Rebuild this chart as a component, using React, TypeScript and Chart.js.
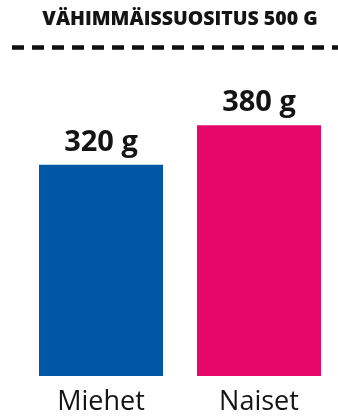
import React, { useEffect, useRef } from "react";
import { Chart, registerables } from "chart.js";

Chart.register(...registerables);

const categories = ["Miehet", "Naiset"];
const values = [320, 380];
const barColors = ["#0057a5", "#e5076a"];
const unit = "g";
const recommendation = 500;
const titleText = "VÄHIMMÄISSUOSITUS 500 G";

const FONT = "'Open Sans', 'Noto Sans', sans-serif";
const TEXT = "#141414";

const valueLabels = {
  id: "valueLabels",
  afterDatasetsDraw(chart: any) {
    const ctx = chart.ctx;
    const meta = chart.getDatasetMeta(0);
    ctx.save();
    ctx.font = `bold 29px ${FONT}`;
    ctx.fillStyle = TEXT;
    ctx.textAlign = "center";
    ctx.textBaseline = "alphabetic";
    meta.data.forEach((bar: any, i: number) => {
      ctx.fillText(`${values[i]} ${unit}`, bar.x, bar.y - 14);
    });
    ctx.restore();
  },
};

const recommendationLine = {
  id: "recommendationLine",
  afterDraw(chart: any) {
    const ctx = chart.ctx;
    const y = chart.scales.y.getPixelForValue(recommendation) + 1.5;
    ctx.save();
    ctx.strokeStyle = "#111";
    ctx.lineWidth = 4.5;
    ctx.setLineDash([12, 8]);
    ctx.beginPath();
    ctx.moveTo(12, y);
    ctx.lineTo(chart.width, y);
    ctx.stroke();
    ctx.restore();
  },
};

export default function App() {
  const ref = useRef<HTMLCanvasElement>(null);
  useEffect(() => {
    document.body.style.margin = "0";
    const chart = new Chart(ref.current as HTMLCanvasElement, {
      type: "bar",
      data: {
        labels: categories,
        datasets: [
          {
            data: values,
            backgroundColor: barColors,
            borderWidth: 0,
            barPercentage: 0.785,
            categoryPercentage: 1,
          },
        ],
      },
      options: {
        responsive: false,
        animation: false,
        devicePixelRatio: 1,
        layout: { padding: { left: 22, right: 0, top: 0, bottom: 0 } },
        plugins: {
          legend: { display: false },
          tooltip: { enabled: false },
          title: {
            display: true,
            text: titleText,
            color: TEXT,
            font: { family: FONT, size: 19.5, weight: "800", lineHeight: 1.2 },
            padding: { top: 8, bottom: 14.6 },
          },
        },
        scales: {
          x: {
            grid: { display: false, drawTicks: false },
            border: { display: false },
            ticks: {
              color: TEXT,
              padding: 10,
              font: { family: FONT, size: 27, lineHeight: 1.2 },
            },
            afterFit(scale: any) {
              scale.height = 40;
            },
          },
          y: {
            display: false,
            min: 0,
            max: recommendation,
          },
        },
      },
      plugins: [valueLabels, recommendationLine],
    });
    if ((document as any).fonts) {
      Promise.all([
        (document as any).fonts.load(`bold 29px 'Open Sans'`),
        (document as any).fonts.load(`800 20px 'Open Sans'`),
        (document as any).fonts.load(`27px 'Open Sans'`),
      ])
        .then(() => chart.update())
        .catch(() => {});
    }
    return () => chart.destroy();
  }, []);
  return (
    <div style={{ position: "absolute", left: 0, top: 0, width: 338, height: 416 }}>
      <canvas ref={ref} width={338} height={416} />
    </div>
  );
}
